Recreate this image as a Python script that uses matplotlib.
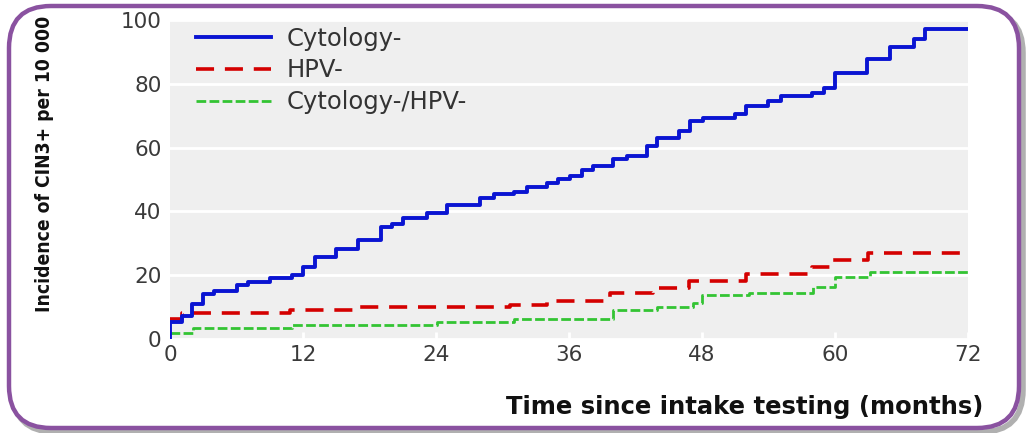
import numpy as np
import matplotlib
matplotlib.use("Agg")
import matplotlib.pyplot as plt
from matplotlib.patches import FancyBboxPatch

# months since intake testing / incidence per 10 000 (step points)
cyto_t = [0, 1.1, 2.0, 3.0, 4.0, 6.0, 7.0, 9.0, 11.0, 12.0, 13.1, 15.0, 17.0, 19.0, 20.0, 21.0,
          23.2, 25.0, 28.0, 29.2, 31.0, 32.2, 34.0, 35.0, 36.1, 37.2, 38.2, 40.0, 41.2, 43.0,
          43.9, 45.9, 46.9, 48.1, 51.0, 52.0, 54.0, 55.1, 57.9, 59.0, 60.0, 62.9, 65.0, 67.1,
          68.1, 72]
cyto_v = [5.3, 7.2, 11.0, 14.0, 15.2, 16.8, 18.0, 19.1, 20.0, 22.7, 25.8, 28.1, 31.0, 35.0, 36.2,
          38.0, 39.6, 42.1, 44.3, 45.3, 46.2, 47.5, 48.8, 50.0, 51.0, 53.1, 54.2, 56.3, 57.3,
          60.5, 63.1, 65.2, 68.3, 69.4, 70.4, 73.1, 74.6, 76.2, 77.2, 78.8, 83.5, 87.7, 91.4,
          94.0, 97.2, 97.2]

hpv_t = [0, 1.1, 10.8, 16.9, 30.7, 34.0, 39.7, 43.6, 46.8, 52.0, 57.9, 59.8, 63.0, 72]
hpv_v = [6.2, 8.2, 9.1, 10.1, 10.8, 12.0, 14.3, 16.0, 18.3, 20.3, 22.7, 24.8, 27.0, 27.0]

both_t = [0, 2.1, 11.0, 24.1, 31.0, 40.0, 43.9, 47.2, 48.0, 52.2, 58.0, 60.0, 63.2, 72]
both_v = [2.0, 3.5, 4.3, 5.3, 6.3, 9.1, 10.1, 11.3, 13.8, 14.4, 16.4, 19.5, 21.1, 21.1]

xticks = [0, 12, 24, 36, 48, 60, 72]
yticks = [0, 20, 40, 60, 80, 100]

fig = plt.figure(figsize=(10.29, 4.33), dpi=100)

# purple rounded frame with a soft shadow, kept behind the axes
shadow = FancyBboxPatch((13, 1), 1010, 421, boxstyle="round,pad=0,rounding_size=42",
                        transform=None, fc="none", ec="#b0b0b0", lw=4, zorder=-2)
frame = FancyBboxPatch((9, 5), 1010, 422, boxstyle="round,pad=0,rounding_size=42",
                       transform=None, fc="white", ec="#8a52a0", lw=3.2, zorder=-1)
fig.patches.extend([shadow, frame])

ax = fig.add_axes([170/1029, 1-339/433, 798/1029, 319/433])
ax.set_facecolor("#efefef")
for s in ax.spines.values():
    s.set_visible(False)

ax.step([0] + cyto_t, [0] + cyto_v, where="post", color="#0a14d2", lw=2.8, label="Cytology-", zorder=4)
ax.step(hpv_t, hpv_v, where="post", color="#d40000", lw=2.6, dashes=(5, 3), label="HPV-", zorder=3)
ax.step(both_t, both_v, where="post", color="#33c433", lw=2.0, dashes=(3.5, 1.2), label="Cytology-/HPV-", zorder=3)

ax.set_xlim(0, 72)
ax.set_ylim(0, 100)
ax.set_xticks(xticks)
ax.set_yticks(yticks)
ax.yaxis.grid(True, color="white", lw=2)
ax.set_axisbelow(True)
ax.tick_params(axis="x", direction="in", color="white", length=5, width=2, pad=4,
               labelsize=15.5, labelcolor="#3a3a3a")
ax.tick_params(axis="y", length=0, pad=6, labelsize=15.5, labelcolor="#3a3a3a")

leg = ax.legend(loc="upper left", bbox_to_anchor=(0.021, 1.01), borderaxespad=0, frameon=False,
                handlelength=3.05, handletextpad=0.64, labelspacing=0.32,
                prop={"family": "DejaVu Sans", "size": 17.5})
for t in leg.get_texts():
    t.set_color("#333333")

fig.text(983/1029, 1-407/433, "Time since intake testing (months)", ha="right", va="center",
         fontsize=17.5, fontweight="bold", family="DejaVu Sans", color="#111111")
fig.text(45/1029, 1-164/433, "Incidence of CIN3+ per 10 000", rotation=90, ha="center", va="center",
         fontsize=13.8, fontweight="bold", family="DejaVu Sans", fontstretch="condensed", color="#111111")

fig.savefig("out.png", dpi=100)
